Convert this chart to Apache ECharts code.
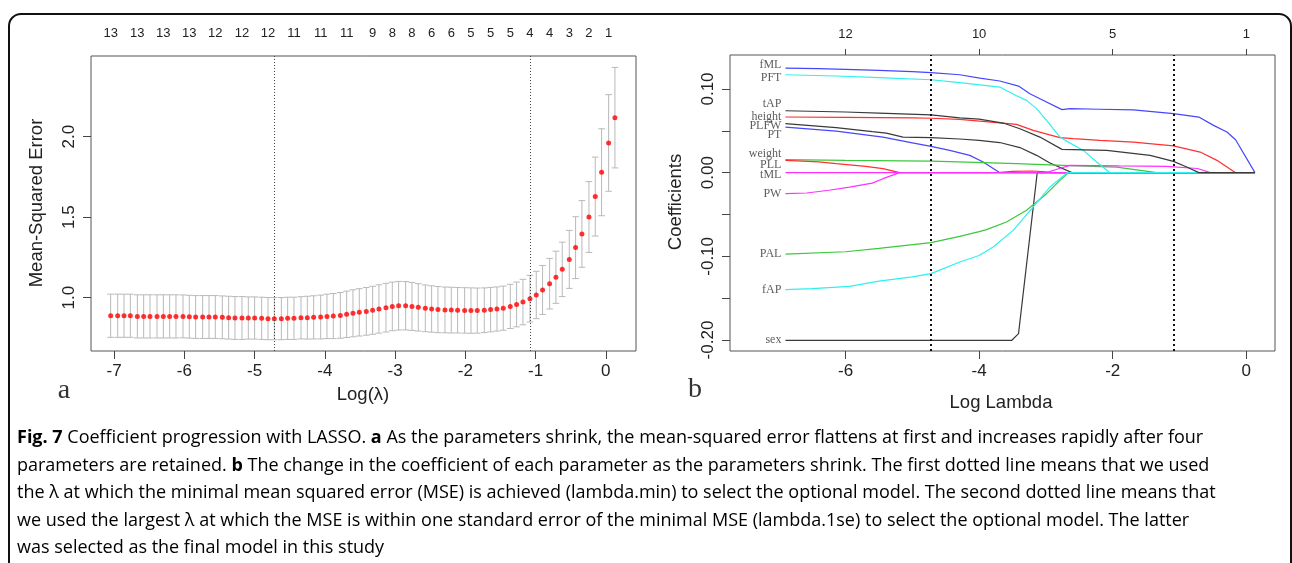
<!DOCTYPE html>
<html><head><meta charset="utf-8">
<script src="https://cdn.jsdelivr.net/npm/echarts@6/dist/echarts.min.js"></script>
<style>html,body{margin:0;padding:0;background:#fff}#c{width:1292px;height:563px}</style>
</head><body><div id="c"></div>
<script>
// ---------- Panel a: cross-validated MSE ----------
const logLambda = [-7.05,-6.95,-6.86,-6.77,-6.67,-6.58,-6.49,-6.39,-6.30,-6.21,-6.12,-6.02,-5.93,-5.84,-5.74,-5.65,-5.56,-5.46,-5.37,-5.28,
  -5.18,-5.09,-5.00,-4.90,-4.81,-4.72,-4.62,-4.53,-4.44,-4.34,-4.25,-4.16,-4.06,-3.97,-3.88,-3.78,-3.69,-3.60,-3.51,-3.41,
  -3.32,-3.23,-3.13,-3.04,-2.95,-2.85,-2.76,-2.67,-2.57,-2.48,-2.39,-2.29,-2.20,-2.11,-2.01,-1.92,-1.83,-1.73,-1.64,-1.55,
  -1.46,-1.36,-1.27,-1.18,-1.08,-0.99,-0.90,-0.80,-0.71,-0.62,-0.52,-0.43,-0.34,-0.24,-0.15,-0.06,0.04,0.13];
const mseMean = [0.888,0.888,0.888,0.888,0.884,0.884,0.884,0.884,0.884,0.884,0.884,0.884,0.882,0.880,0.880,0.880,0.880,0.878,0.876,0.874,
  0.874,0.874,0.874,0.872,0.870,0.870,0.870,0.872,0.872,0.875,0.876,0.878,0.880,0.884,0.886,0.890,0.897,0.903,0.909,0.915,
  0.922,0.930,0.938,0.946,0.950,0.950,0.946,0.940,0.934,0.930,0.926,0.924,0.923,0.922,0.921,0.920,0.920,0.922,0.926,0.930,
  0.935,0.946,0.958,0.973,0.994,1.017,1.048,1.087,1.127,1.176,1.238,1.311,1.396,1.501,1.628,1.779,1.961,2.118];
const mseSE = [0.134,0.134,0.134,0.134,0.134,0.134,0.134,0.134,0.134,0.134,0.134,0.133,0.133,0.133,0.133,0.133,0.133,0.133,0.133,0.133,
  0.133,0.131,0.131,0.131,0.131,0.131,0.131,0.131,0.131,0.131,0.133,0.134,0.136,0.138,0.140,0.142,0.144,0.146,0.147,0.148,
  0.149,0.150,0.151,0.151,0.151,0.150,0.149,0.147,0.145,0.144,0.143,0.142,0.142,0.141,0.141,0.141,0.140,0.139,0.138,0.137,
  0.137,0.137,0.139,0.141,0.145,0.147,0.152,0.157,0.162,0.169,0.180,0.192,0.207,0.220,0.245,0.270,0.300,0.312];
const topIdx = [0,4,8,12,16,20,24,28,32,36,40,43,46,49,52,55,58,61,64,67,70,73,76];
const topLabels = ['13','13','13','13','12','12','12','11','11','11','9','8','8','6','6','5','5','5','4','4','3','2','1'];
const lambdaMinIdx = 25, lambda1seIdx = 64;
const mseTicks = [1.0,1.5,2.0];
const logTicksA = [-7,-6,-5,-4,-3,-2,-1,0];

// ---------- Panel b: coefficient paths ----------
const coefTicksX = [-6,-4,-2,0];
const coefTopLabels = ['12','10','5','1'];
const coefTicksY = [0.10,0.05,0,-0.05,-0.10,-0.15,-0.20];
const coefLabelTicksY = [0.10,0,-0.10,-0.20];

const coef_sex = [[-6.9,-0.2003],[-3.51,-0.2003],[-3.41,-0.1924],[-3.13,0],[0.13,0]];
const coef_height = [[-6.9,0.0665],[-6.0,0.066],[-5.0,0.0655],[-4.72,0.065],[-4.29,0.0637],[-3.44,0.0577],[-3.19,0.0505],[-2.79,0.0418],[-2.59,0.0406],[-2.19,0.0386],[-1.69,0.0365],[-1.09,0.032],[-0.69,0.0246],[-0.44,0.0147],[-0.16,0],[0.13,0]];
const coef_weight = [[-6.9,0.0155],[-6.0,0.0148],[-4.72,0.0139],[-4.44,0.0132],[-3.44,0.0107],[-2.74,0.0087],[-1.94,0.0067],[-1.34,0],[0.13,0]];
const coef_fML = [[-6.9,0.125],[-6.4,0.1242],[-6.0,0.1235],[-5.5,0.1222],[-5.0,0.1207],[-4.72,0.1195],[-4.29,0.117],[-3.99,0.113],[-3.69,0.1095],[-3.41,0.1035],[-3.24,0.0944],[-3.09,0.0884],[-2.76,0.0753],[-2.64,0.0765],[-2.2,0.0758],[-1.69,0.075],[-1.09,0.0705],[-0.71,0.0664],[-0.49,0.0565],[-0.29,0.0485],[-0.16,0.0394],[0.13,0]];
const coef_fAP = [[-6.9,-0.1398],[-6.5,-0.1385],[-5.94,-0.1358],[-5.5,-0.1295],[-5.0,-0.1245],[-4.72,-0.1207],[-4.29,-0.1068],[-4.0,-0.099],[-3.79,-0.0889],[-3.49,-0.069],[-3.19,-0.041],[-2.94,-0.0172],[-2.68,0],[0.13,0]];
const coef_tML = [[-6.9,0],[-2.99,0],[-2.8,0.005],[-2.64,0.0087],[-1.9,0.008],[-1.19,0.0075],[-0.73,0.005],[-0.54,0],[0.13,0]];
const coef_tAP = [[-6.9,0.074],[-6.0,0.0725],[-5.5,0.0712],[-4.72,0.069],[-4.29,0.0655],[-4.0,0.064],[-3.64,0.0593],[-3.39,0.0525],[-3.09,0.0425],[-2.76,0.0278],[-2.09,0.0266],[-1.44,0.0207],[-1.09,0.0135],[-0.9,0.007],[-0.71,0],[0.13,0]];
const coef_PLL = [[-6.9,0.0147],[-6.4,0.0128],[-6.14,0.0107],[-5.7,0.0075],[-5.44,0.0048],[-5.19,0],[-3.72,0],[-3.5,0.0015],[-3.2,0.002],[-3.0,0.001],[-2.92,0],[0.13,0]];
const coef_PAL = [[-6.9,-0.0973],[-6.0,-0.0945],[-5.5,-0.0905],[-4.72,-0.0836],[-4.29,-0.0761],[-4.0,-0.0705],[-3.89,-0.0681],[-3.59,-0.059],[-3.29,-0.045],[-2.99,-0.0251],[-2.79,-0.0092],[-2.66,0],[0.13,0]];
const coef_PT = [[-6.9,0.0545],[-6.14,0.0497],[-5.44,0.0425],[-5.0,0.0357],[-4.72,0.0314],[-4.44,0.0266],[-4.14,0.0207],[-3.94,0.0127],[-3.69,0],[0.13,0]];
const coef_PFT = [[-6.9,0.117],[-6.14,0.1155],[-5.5,0.1135],[-4.72,0.111],[-4.29,0.1075],[-3.69,0.1023],[-3.44,0.092],[-3.29,0.0864],[-3.14,0.0765],[-2.99,0.0625],[-2.79,0.0425],[-2.71,0.0386],[-2.44,0.0266],[-2.24,0.0127],[-2.04,0],[0.13,0]];
const coef_PW = [[-6.9,-0.0251],[-6.58,-0.0243],[-6.25,-0.021],[-5.94,-0.0172],[-5.6,-0.0125],[-5.44,-0.0072],[-5.19,0],[0.13,0]];
const coef_PLFW = [[-6.9,0.0585],[-6.14,0.0538],[-5.6,0.049],[-5.39,0.0473],[-5.14,0.0425],[-4.72,0.0418],[-4.29,0.0402],[-4.0,0.0386],[-3.69,0.036],[-3.39,0.030],[-3.14,0.0207],[-2.94,0.0115],[-2.61,0],[0.13,0]];

const varNames = ['sex','height','weight','fML','fAP','tML','tAP','PLL','PAL','PT','PFT','PW','PLFW'];
const varLabelY = [-0.1992,0.0664,0.0222,0.129,-0.1398,-0.0024,0.0824,0.0099,-0.0973,0.0446,0.1135,-0.0251,0.0562];
const coefPaths = {sex:coef_sex,height:coef_height,weight:coef_weight,fML:coef_fML,fAP:coef_fAP,tML:coef_tML,tAP:coef_tAP,PLL:coef_PLL,PAL:coef_PAL,PT:coef_PT,PFT:coef_PFT,PW:coef_PW,PLFW:coef_PLFW};

// ---------- styling ----------
const palette = ['#3a3a3a','#ff3030','#3cc83c','#4646ff','#2ef0f0','#ff30ff'];
const drawOrder = ['sex','PT','fML','PLFW','height','weight','PAL','PLL','PW','tML','fAP','PFT','tAP'];
const SANS = '"Liberation Sans", Arial, sans-serif';
const SERIF = '"Liberation Serif", "Times New Roman", serif';
const NARROW = '"Liberation Sans Narrow", "Liberation Sans", sans-serif';
const CAPFONT = '"Open Sans", sans-serif';

const topVals = topIdx.map(i => logLambda[i]);
function nearestLabel(vals, labels, v){ let b=0; for(let j=1;j<vals.length;j++){ if(Math.abs(vals[j]-v)<Math.abs(vals[b]-v)) b=j; } return labels[b]; }

const tickStyle = {show:true, length:8, lineStyle:{color:'#444', width:1}};
const lblStyle = {color:'#222', fontFamily:SANS, fontSize:17};
const noLine = {show:false, onZero:false};

const series = [];
// error bars
series.push({
  type:'custom', xAxisIndex:0, yAxisIndex:0, silent:true, z:2,
  data: logLambda.map((x,i)=>[x, mseMean[i]-mseSE[i], mseMean[i]+mseSE[i]]),
  encode:{x:0, y:[1,2]},
  renderItem(params, api){
    const x = api.value(0);
    const lo = api.coord([x, api.value(1)]);
    const hi = api.coord([x, api.value(2)]);
    const hw = 3.3;
    const st = {stroke:'#b9b9b9', lineWidth:1, fill:null};
    return {type:'group', children:[
      {type:'line', shape:{x1:lo[0],y1:lo[1],x2:hi[0],y2:hi[1]}, style:st},
      {type:'line', shape:{x1:lo[0]-hw,y1:lo[1],x2:lo[0]+hw,y2:lo[1]}, style:st},
      {type:'line', shape:{x1:hi[0]-hw,y1:hi[1],x2:hi[0]+hw,y2:hi[1]}, style:st}
    ]};
  }
});
// red dots + dotted lines
series.push({
  type:'scatter', xAxisIndex:0, yAxisIndex:0, z:3, silent:true,
  symbolSize:5, itemStyle:{color:'#ff0000'},
  data: logLambda.map((x,i)=>[x, mseMean[i]]),
  markLine:{silent:true, symbol:'none', label:{show:false},
    lineStyle:{color:'#444', width:1, type:[1,2]},
    data:[{xAxis:logLambda[lambdaMinIdx]},{xAxis:logLambda[lambda1seIdx]}]}
});
// coefficient paths
drawOrder.forEach((name, k) => {
  const idx = varNames.indexOf(name);
  series.push({
    type:'line', name, xAxisIndex:2, yAxisIndex:1, data: coefPaths[name],
    showSymbol:false, symbol:'none', smooth:false, silent:true, z:3,
    lineStyle:{color: palette[idx % 6], width:1.2},
    markLine: k===0 ? {silent:true, symbol:'none', label:{show:false},
      lineStyle:{color:'#111', width:2, type:[2,3]},
      data:[{xAxis:logLambda[lambdaMinIdx]},{xAxis:logLambda[lambda1seIdx]}]} : undefined
  });
});
// variable labels at left of the paths
series.push({
  type:'scatter', xAxisIndex:2, yAxisIndex:1, symbolSize:0, silent:true, z:4,
  data: varNames.map((n,i)=>({value:[-6.9, varLabelY[i]], name:n})),
  label:{show:true, position:'left', distance:4, formatter:p=>p.name,
    color:'#333', fontFamily:SERIF, fontSize:12}
});

const captionRich = {
  r:{fontFamily:CAPFONT, fontSize:18, color:'#2a2a2a'},
  b:{fontFamily:CAPFONT, fontSize:18, fontWeight:'bold', color:'#111'}
};
const captionLines = [
  '{b|Fig. 7}{r| Coefficient progression with LASSO. }{b|a}{r| As the parameters shrink, the mean-squared error flattens at first and increases rapidly after four}',
  '{r|parameters are retained. }{b|b}{r| The change in the coefficient of each parameter as the parameters shrink. The first dotted line means that we used}',
  '{r|the λ at which the minimal mean squared error (MSE) is achieved (lambda.min) to select the optional model. The second dotted line means that}',
  '{r|we used the largest λ at which the MSE is within one standard error of the minimal MSE (lambda.1se) to select the optional model. The latter}',
  '{r|was selected as the final model in this study}'
];

const graphics = [
  {type:'rect', shape:{x:9,y:14,width:1282,height:600,r:12}, style:{fill:null, stroke:'#111', lineWidth:2}, z:0, silent:true},
  {type:'text', x:37, y:203, rotation:Math.PI/2, style:{text:'Mean-Squared Error', fontFamily:SANS, fontSize:18.5, fill:'#222', align:'center', verticalAlign:'middle'}},
  {type:'text', x:676, y:202, rotation:Math.PI/2, style:{text:'Coefficients', fontFamily:SANS, fontSize:18.5, fill:'#222', align:'center', verticalAlign:'middle'}},
  {type:'text', x:363, y:395, style:{text:'Log(λ)', fontFamily:SANS, fontSize:18.5, fill:'#222', align:'center', verticalAlign:'middle'}},
  {type:'text', x:1001, y:403, style:{text:'Log Lambda', fontFamily:SANS, fontSize:18.5, fill:'#222', align:'center', verticalAlign:'middle'}},
  {type:'text', x:64, y:391, style:{text:'a', fontFamily:SERIF, fontSize:28, fill:'#333', align:'center', verticalAlign:'middle'}},
  {type:'text', x:695, y:390, style:{text:'b', fontFamily:SERIF, fontSize:28, fill:'#333', align:'center', verticalAlign:'middle'}}
];
captionLines.forEach((t,i)=>{
  graphics.push({type:'text', x:17, y:438 + i*27.5, style:{text:t, rich:captionRich, align:'left', verticalAlign:'middle', fontFamily:CAPFONT, fontSize:18}});
});

const option = {
  animation:false,
  backgroundColor:'#fff',
  grid:[
    {left:91, top:56, width:545, height:295, show:true, borderColor:'#555', borderWidth:1, backgroundColor:'transparent'},
    {left:730, top:55, width:545, height:296, show:true, borderColor:'#555', borderWidth:1, backgroundColor:'transparent'}
  ],
  xAxis:[
    {type:'value', gridIndex:0, min:-7.33, max:0.43, position:'bottom',
      axisLine:noLine, splitLine:{show:false},
      axisTick:Object.assign({customValues:logTicksA}, tickStyle),
      axisLabel:Object.assign({customValues:logTicksA, margin:12, formatter:v=>String(Math.round(v))}, lblStyle)},
    {type:'value', gridIndex:0, min:-7.33, max:0.43, position:'top',
      axisLine:noLine, splitLine:{show:false}, axisTick:{show:false},
      axisLabel:{customValues:topVals, margin:16, color:'#222', fontFamily:NARROW, fontSize:13,
        formatter:v=>nearestLabel(topVals, topLabels, v)}},
    {type:'value', gridIndex:1, min:-7.73, max:0.43, position:'bottom',
      axisLine:noLine, splitLine:{show:false},
      axisTick:Object.assign({customValues:coefTicksX}, tickStyle),
      axisLabel:Object.assign({customValues:coefTicksX, margin:12, formatter:v=>String(Math.round(v))}, lblStyle)},
    {type:'value', gridIndex:1, min:-7.73, max:0.43, position:'top',
      axisLine:noLine, splitLine:{show:false},
      axisTick:{show:true, length:6, customValues:coefTicksX, lineStyle:{color:'#444'}},
      axisLabel:{customValues:coefTicksX, margin:14, color:'#222', fontFamily:NARROW, fontSize:13,
        formatter:v=>nearestLabel(coefTicksX, coefTopLabels, v)}}
  ],
  yAxis:[
    {type:'value', gridIndex:0, min:0.669, max:2.501, position:'left',
      axisLine:noLine, splitLine:{show:false},
      axisTick:Object.assign({customValues:mseTicks}, tickStyle),
      axisLabel:Object.assign({customValues:mseTicks, rotate:90, margin:13, formatter:v=>v.toFixed(1)}, lblStyle)},
    {type:'value', gridIndex:1, min:-0.2131, max:0.1406, position:'left',
      axisLine:noLine, splitLine:{show:false},
      axisTick:Object.assign({customValues:coefTicksY}, tickStyle),
      axisLabel:Object.assign({customValues:coefLabelTicksY, rotate:90, margin:13, formatter:v=>v.toFixed(2)}, lblStyle)}
  ],
  graphic:graphics,
  series
};
const chart = echarts.init(document.getElementById('c'), null, {renderer:'canvas'});
chart.setOption(option);
</script></body></html>
